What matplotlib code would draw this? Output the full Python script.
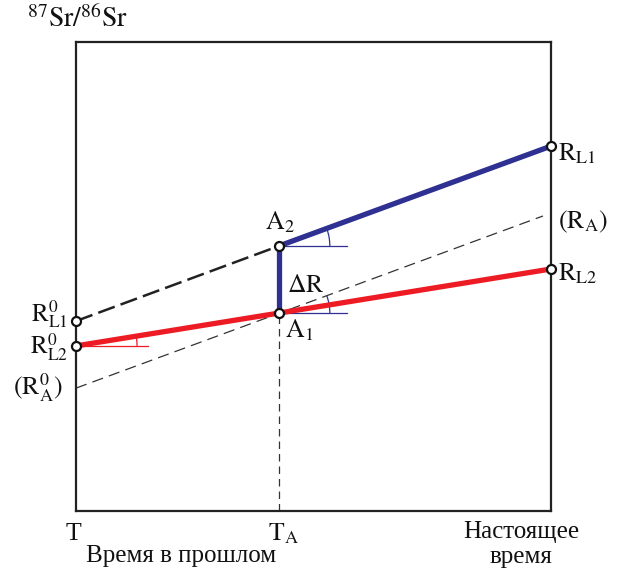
import numpy as np
import matplotlib.pyplot as plt
from matplotlib.patches import Arc

plt.rcParams['font.family'] = ['Liberation Serif', 'DejaVu Serif']
plt.rcParams['mathtext.fontset'] = 'stix'

# time axis: T (past), T_A, present
x_pts = [0.0, 0.427, 1.0]
x_ra_end = 0.983
# 87Sr/86Sr values (arbitrary units, 0..1 of the box)
r_l1 = [0.405, 0.565, 0.778]
r_l2 = [0.352, 0.422, 0.516]
r_a = [0.262, 0.422, 0.629]

blue = '#2e3192'
red = '#ed1c24'
FS = 18
FM = 18.5

fig = plt.figure(figsize=(6.18, 5.71), dpi=100)
ax = fig.add_axes([76/618, 60/571, 475/618, 469/571])
ax.set_xlim(0, 1)
ax.set_ylim(0, 1)
ax.set_xticks([])
ax.set_yticks([])
for s in ax.spines.values():
    s.set_linewidth(1.6)
    s.set_color('#222222')

# (R_A) reference line, thin dashed
ax.plot([x_pts[0], x_ra_end], [r_a[0], r_a[2]], color='#333333', lw=0.9,
        dashes=(9, 5), zorder=2)
# vertical dashed from A1 to the time axis
ax.plot([x_pts[1], x_pts[1]], [0, r_l2[1]], color='#333333', lw=0.9,
        dashes=(6, 4), zorder=2)
# dashed extension of R_L1 into the past
ax.plot(x_pts[:2], r_l1[:2], color='#222222', lw=1.8, dashes=(7, 2.5), zorder=3)
# R_L1 after T_A
ax.plot(x_pts[1:], r_l1[1:], color=blue, lw=3.8, solid_capstyle='butt', zorder=4)
# delta R
ax.plot([x_pts[1], x_pts[1]], [r_l2[1], r_l1[1]], color=blue, lw=3.8, zorder=4)
# R_L2
ax.plot(x_pts, r_l2, color=red, lw=3.8, solid_capstyle='butt', zorder=4)

# angle marks
def angle_mark(x0, y0, x1, y1, length, radius, color):
    # slope angle in pixel space
    px = 475 * (x1 - x0)
    py = 469 * (y1 - y0)
    ang = np.degrees(np.arctan2(py, px))
    ax.plot([x0, x0 + length / 475], [y0, y0], color=color, lw=0.9, zorder=3)
    ax.add_patch(Arc((x0, y0), 2 * radius / 475, 2 * radius / 469,
                     theta1=0, theta2=ang, color=color, lw=0.9, zorder=3))

angle_mark(x_pts[0], r_l2[0], x_pts[1], r_l2[1], 72, 61, red)
angle_mark(x_pts[1], r_l1[1], x_pts[2], r_l1[2], 68, 51, blue)
angle_mark(x_pts[1], r_l2[1], x_ra_end, r_a[2], 68, 51, blue)

# points
mk = dict(marker='o', ms=6.5, mfc='white', mec='#111111', mew=1.6,
          linestyle='none', zorder=6, clip_on=False)
ax.plot([x_pts[0], x_pts[0], x_pts[1], x_pts[1], x_pts[2], x_pts[2]],
        [r_l1[0], r_l2[0], r_l1[1], r_l2[1], r_l1[2], r_l2[2]], **mk)

def px(x, y):
    return (x - 76) / 475, (511 - y) / 469

kw = dict(clip_on=False, color='#111111', va='baseline')
ax.text(*px(27, 27), r'$^{87}\mathrm{Sr}/^{86}\mathrm{Sr}$', ha='left', fontsize=20, **kw)
ax.text(*px(68, 321), r'$\mathrm{R}_{\mathrm{L1}}^{0}$', ha='right', fontsize=18, **kw)
ax.text(*px(68, 354), r'$\mathrm{R}_{\mathrm{L2}}^{0}$', ha='right', fontsize=18, **kw)
ax.text(*px(63, 395), r'$(\mathrm{R}_{\mathrm{A}}^{0})$', ha='right', fontsize=FM, **kw)
ax.text(*px(265, 229), r'$\mathrm{A}_{2}$', ha='left', fontsize=FM, **kw)
ax.text(*px(287, 292), r'$\Delta\mathrm{R}$', ha='left', fontsize=FM, **kw)
ax.text(*px(285, 337), r'$\mathrm{A}_{1}$', ha='left', fontsize=FM, **kw)
ax.text(*px(558, 160), r'$\mathrm{R}_{\mathrm{L1}}$', ha='left', fontsize=FM, **kw)
ax.text(*px(558, 228), r'$(\mathrm{R}_{\mathrm{A}})$', ha='left', fontsize=FM, **kw)
ax.text(*px(558, 280), r'$\mathrm{R}_{\mathrm{L2}}$', ha='left', fontsize=FM, **kw)

ax.text(*px(73, 540), 'T', ha='center', fontsize=FM, **kw)
ax.text(*px(268, 540), r'$\mathrm{T}_{\mathrm{A}}$', ha='left', fontsize=FM, **kw)
ax.text(*px(521, 538), 'Настоящее', ha='center', fontsize=FS, **kw)
ax.text(*px(521, 563), 'время', ha='center', fontsize=FS, **kw)
ax.text(*px(181, 562), 'Время в прошлом', ha='center', fontsize=FS, **kw)

fig.savefig('out.png', dpi=100)
